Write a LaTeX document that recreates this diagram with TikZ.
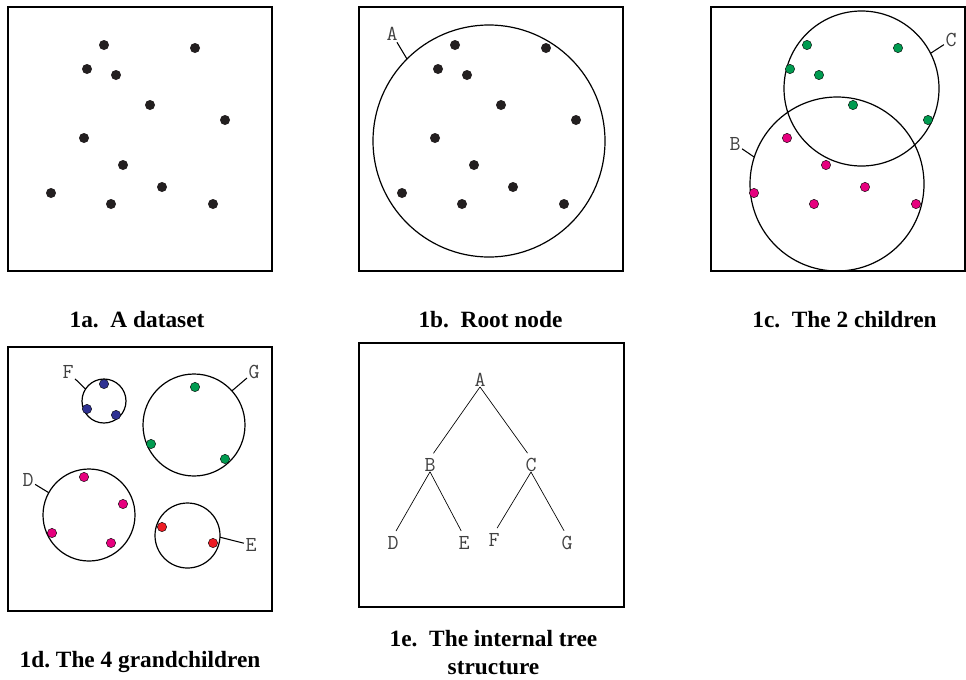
\documentclass[tikz,border=0pt]{standalone}
\usepackage{fontspec}
\setmainfont{Liberation Serif}
\definecolor{dotblack}{RGB}{35,31,32}
\definecolor{dotgreen}{RGB}{0,155,80}
\definecolor{dotpink}{RGB}{230,0,126}
\definecolor{dotblue}{RGB}{46,49,146}
\definecolor{dotred}{RGB}{237,28,36}

\begin{document}
\begin{tikzpicture}[
    x=0.75pt, y=-0.75pt,
    panel/.style={draw, line width=1pt},
    cluster/.style={circle, draw, line width=0.9pt, inner sep=0pt, outer sep=0pt},
    sample/.style={circle, fill=dotblack, inner sep=0pt, minimum size=7.5pt},
    member/.style={circle, draw=black, line width=0.3pt, inner sep=0pt, minimum size=7pt},
    tag/.style={font=\fontsize{16}{16}\selectfont\ttfamily, text=black!75, inner sep=1pt},
    leader/.style={line width=0.8pt},
    treenode/.style={font=\fontsize{16}{16}\selectfont\ttfamily, text=black!75, inner sep=0pt},
    branch/.style={line width=0.5pt, shorten >=4.5pt},
    caption/.style={font=\fontsize{17.5}{21}\selectfont\bfseries, anchor=base, align=center}
]
    \useasboundingbox (0,0) rectangle (966,679);

    % 1a: the data set
    \draw[panel] (8,7) rectangle (272,271);
    \node[sample] (a1) at (104,45) {};
    \node[sample] (a2) at (195,48) {};
    \node[sample] (a3) at (87,69) {};
    \node[sample] (a4) at (116,75) {};
    \node[sample] (a5) at (150,105) {};
    \node[sample] (a6) at (225,120) {};
    \node[sample] (a7) at (84,138) {};
    \node[sample] (a8) at (123,165) {};
    \node[sample] (a9) at (162,187) {};
    \node[sample] (a10) at (51,193) {};
    \node[sample] (a11) at (111,204) {};
    \node[sample] (a12) at (213,204) {};
    \node[caption] (capa) at (137,327) {1a.\ \ A dataset};

    % 1b: root node
    \draw[panel] (359,7) rectangle (623,271);
    \node[cluster, minimum size=174pt] (A) at (489,141) {};
    \node[tag] (labA) at (392,34) {A};
    \draw[leader] (A.135) -- (labA);
    \node[sample] (b1) at (455,45) {};
    \node[sample] (b2) at (546,48) {};
    \node[sample] (b3) at (438,69) {};
    \node[sample] (b4) at (467,75) {};
    \node[sample] (b5) at (501,105) {};
    \node[sample] (b6) at (576,120) {};
    \node[sample] (b7) at (435,138) {};
    \node[sample] (b8) at (474,165) {};
    \node[sample] (b9) at (513,187) {};
    \node[sample] (b10) at (402,193) {};
    \node[sample] (b11) at (462,204) {};
    \node[sample] (b12) at (564,204) {};
    \node[caption] (capb) at (490.5,327) {1b.\ \ Root node};

    % 1c: the two children
    \draw[panel] (711,7) rectangle (965,271);
    \node[cluster, minimum size=116.25pt] (C) at (861.5,88.5) {};
    \node[cluster, minimum size=130.5pt] (B) at (837,184) {};
    \node[tag] (labC) at (951,40) {C};
    \node[tag] (labB) at (735,144) {B};
    \draw[leader] (C.27) -- (labC);
    \draw[leader] (B.162) -- (labB);
    \node[member, fill=dotgreen] (c1) at (807,45) {};
    \node[member, fill=dotgreen] (c2) at (898,48) {};
    \node[member, fill=dotgreen] (c3) at (790,69) {};
    \node[member, fill=dotgreen] (c4) at (819,75) {};
    \node[member, fill=dotgreen] (c5) at (853,105) {};
    \node[member, fill=dotgreen] (c6) at (928,120) {};
    \node[member, fill=dotpink] (c7) at (787,138) {};
    \node[member, fill=dotpink] (c8) at (826,165) {};
    \node[member, fill=dotpink] (c9) at (865,187) {};
    \node[member, fill=dotpink] (c10) at (754,193) {};
    \node[member, fill=dotpink] (c11) at (814,204) {};
    \node[member, fill=dotpink] (c12) at (916,204) {};
    \node[caption] (capc) at (844.5,327) {1c.\ \ The 2 children};

    % 1d: the four grandchildren
    \draw[panel] (8,347) rectangle (272,611);
    \node[cluster, minimum size=33pt] (F) at (104,401) {};
    \node[cluster, minimum size=76.5pt] (G) at (194,425) {};
    \node[cluster, minimum size=69pt] (D) at (89,515) {};
    \node[cluster, minimum size=48.75pt] (E) at (187.5,535.5) {};
    \node[tag] (labF) at (68,372) {F};
    \node[tag] (labG) at (254,372) {G};
    \node[tag] (labD) at (28,480) {D};
    \node[tag] (labE) at (251,545) {E};
    \draw[leader] (F.147) -- (labF);
    \draw[leader] (G.42) -- (labG);
    \draw[leader] (D.151) -- (labD);
    \draw[leader] (E.357) -- (labE);
    \node[member, fill=dotblue] (f1) at (104,384) {};
    \node[member, fill=dotblue] (f2) at (87,409) {};
    \node[member, fill=dotblue] (f3) at (116,415) {};
    \node[member, fill=dotgreen] (g1) at (195,387) {};
    \node[member, fill=dotgreen] (g2) at (151,444) {};
    \node[member, fill=dotgreen] (g3) at (225,459) {};
    \node[member, fill=dotpink] (d1) at (84,477) {};
    \node[member, fill=dotpink] (d2) at (123,504) {};
    \node[member, fill=dotpink] (d3) at (52,533) {};
    \node[member, fill=dotpink] (d4) at (111,543) {};
    \node[member, fill=dotred] (e1) at (162,527) {};
    \node[member, fill=dotred] (e2) at (213,543) {};
    \node[caption] (capd) at (140,667) {1d.\ The 4 grandchildren};

    % 1e: the tree
    \draw[panel] (359,343) rectangle (624,607);
    \node[treenode] (tA) at (480,380) {A};
    \node[treenode] (tB) at (430,465) {B};
    \node[treenode] (tC) at (531,465) {C};
    \node[treenode] (tD) at (393,543) {D};
    \node[treenode] (tE) at (464,543) {E};
    \node[treenode] (tF) at (494,540) {F};
    \node[treenode] (tG) at (567,543) {G};
    \draw[branch] (tA.south) -- (tB.north);
    \draw[branch] (tA.south) -- (tC.north);
    \draw[branch] (tB.south) -- (tD.north);
    \draw[branch] (tB.south) -- (tE.north);
    \draw[branch] (tC.south) -- (tF.north);
    \draw[branch] (tC.south) -- (tG.north);
    \node[caption] (cape) at (493.5,674) {1e.\ \ The internal tree\\structure};
\end{tikzpicture}
\end{document}
